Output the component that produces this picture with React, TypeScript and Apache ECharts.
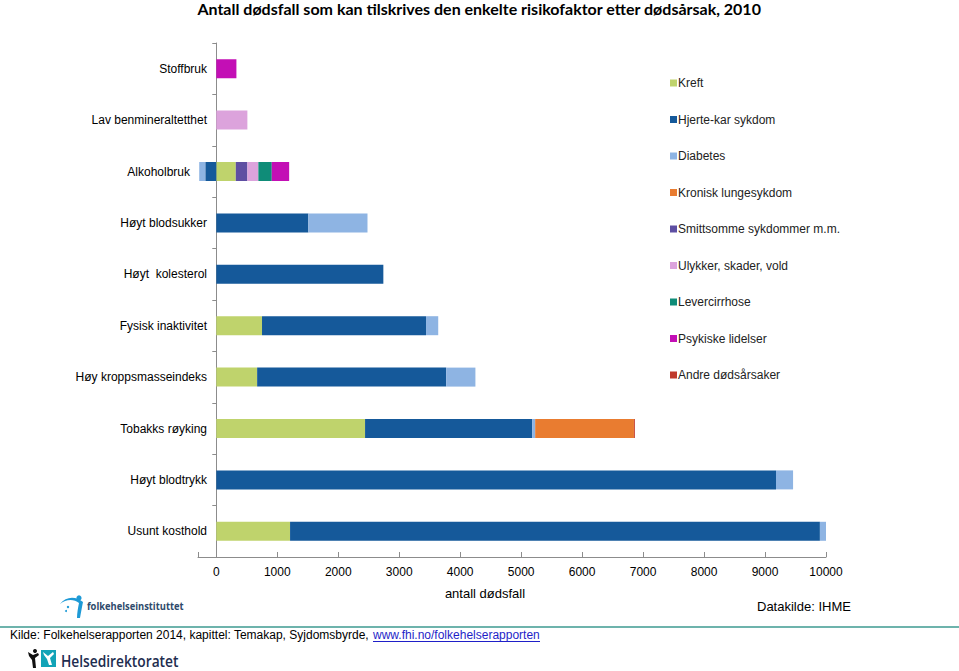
import React, { useEffect, useRef } from "react";
import * as echarts from "echarts";

const categories = [
  "Stoffbruk",
  "Lav benmineraltetthet",
  "Alkoholbruk",
  "Høyt blodsukker",
  "Høyt  kolesterol",
  "Fysisk inaktivitet",
  "Høy kroppsmasseindeks",
  "Tobakks røyking",
  "Høyt blodtrykk",
  "Usunt kosthold",
];

const seriesNames = [
  "Kreft",
  "Hjerte-kar sykdom",
  "Diabetes",
  "Kronisk lungesykdom",
  "Smittsomme sykdommer m.m.",
  "Ulykker, skader, vold",
  "Levercirrhose",
  "Psykiske lidelser",
  "Andre dødsårsaker",
];

const kreft = [null, null, 320, null, null, 750, 670, 2440, null, 1210];
const hjerteKar = [null, null, -180, 1510, 2740, 2690, 3100, 2740, 9180, 8690];
const diabetes = [null, null, -100, 970, null, 200, 480, 50, 280, 115];
const kroniskLunge = [null, null, null, null, null, null, null, 1620, null, null];
const smittsomme = [null, null, 190, null, null, null, null, null, null, null];
const ulykker = [null, 510, 180, null, null, null, null, null, null, null];
const levercirrhose = [null, null, 220, null, null, null, null, null, null, null];
const psykiske = [330, null, 285, null, null, null, null, null, null, null];
const andre = [null, null, null, null, null, null, null, 15, null, null];

const seriesValues = [kreft, hjerteKar, diabetes, kroniskLunge, smittsomme, ulykker, levercirrhose, psykiske, andre];

const colors = ["#BFD36C", "#15599A", "#8EB4E3", "#E97C30", "#5E4FA2", "#DCA3DC", "#0F8C78", "#C30FB5", "#C0392B"];

const xTicks = [-300, 0, 1000, 2000, 3000, 4000, 5000, 6000, 7000, 8000, 9000, 10000];
const xLabels = [0, 1000, 2000, 3000, 4000, 5000, 6000, 7000, 8000, 9000, 10000];

const swooshPath = "M0,8 C6,3 14,3 19,7 C18,12 17,17 17,22 L20,22 C21,16 22,11 23,6 C16,0 6,0 0,8 Z";
echarts.graphic.registerShape("fhiSwoosh", echarts.graphic.extendPath(swooshPath, {}));

export default function App() {
  const ref = useRef<HTMLDivElement>(null);
  useEffect(() => {
    if (!ref.current) return;
    const chart = echarts.init(ref.current, null, { renderer: "svg" });
    const font = "Liberation Sans, Arial, sans-serif";
    chart.setOption({
      animation: false,
      color: colors,
      textStyle: { fontFamily: font },
      grid: { left: 198, right: 133, top: 43, bottom: 114, containLabel: false },
      legend: {
        orient: "vertical",
        left: 665,
        top: 72,
        itemWidth: 7,
        itemHeight: 7,
        itemGap: 24.5,
        icon: "rect",
        data: seriesNames,
        textStyle: { fontSize: 12, color: "#222", fontFamily: font, padding: [0, 0, 0, -4] },
      },
      xAxis: {
        type: "value",
        min: -300,
        max: 10000,
        splitLine: { show: false },
        axisLine: { show: true, lineStyle: { color: "#8c8c8c" } },
        axisTick: { show: true, inside: true, length: 5, lineStyle: { color: "#8c8c8c" }, customValues: xTicks },
        axisLabel: {
          color: "#000",
          fontSize: 12,
          margin: 9,
          customValues: xLabels,
          formatter: (v: number) => String(v),
        },
      },
      yAxis: {
        type: "category",
        inverse: true,
        data: categories,
        axisLine: { show: true, onZero: true, lineStyle: { color: "#8c8c8c" } },
        axisTick: { show: true, length: 4, lineStyle: { color: "#8c8c8c" } },
        axisLabel: {
          color: "#000",
          fontSize: 12,
          margin: -9,
          formatter: (v: string) => (v === "Alkoholbruk" ? `{a|${v}}` : v),
          rich: { a: { color: "#000", fontSize: 12, fontFamily: font, padding: [0, 17, 0, 0] } },
        },
      },
      series: seriesNames.map((name, i) => ({
        name,
        type: "bar",
        stack: "total",
        barWidth: 19,
        data: seriesValues[i],
        itemStyle: { color: colors[i] },
      })),
      graphic: [
        {
          type: "text",
          left: "center",
          top: 0,
          style: {
            text: "Antall dødsfall som kan tilskrives den enkelte risikofaktor etter dødsårsak, 2010",
            font: "bold 16px Lato, sans-serif",
            fill: "#000",
          },
        },
        {
          type: "text",
          x: 485,
          y: 593,
          style: { text: "antall dødsfall", font: `13px ${font}`, fill: "#000", align: "center", verticalAlign: "middle" },
        },
        {
          type: "text",
          x: 757,
          y: 606,
          style: { text: "Datakilde: IHME", font: `13px ${font}`, fill: "#000", align: "left", verticalAlign: "middle" },
        },
        { type: "rect", shape: { x: 0, y: 626, width: 959, height: 2 }, style: { fill: "#6DB3AC" } },
        {
          type: "text",
          x: 10,
          y: 635,
          style: {
            text: "Kilde: Folkehelserapporten 2014, kapittel: Temakap, Syjdomsbyrde, ",
            font: `12px ${font}`,
            fill: "#000",
            verticalAlign: "middle",
          },
        },
        {
          type: "text",
          x: 373,
          y: 635,
          style: { text: "www.fhi.no/folkehelserapporten", font: `12px ${font}`, fill: "#1F1FC8", verticalAlign: "middle" },
        },
        { type: "line", shape: { x1: 373, y1: 641.5, x2: 540, y2: 641.5 }, style: { stroke: "#1F1FC8", lineWidth: 1 } },
        // FHI logo
        { type: "fhiSwoosh", x: 60, y: 596, scaleX: 1, scaleY: 1, style: { fill: "#1E9AD6" } },
        { type: "circle", shape: { cx: 79, cy: 598, r: 2.6 }, style: { fill: "#1E9AD6" } },
        { type: "circle", shape: { cx: 68, cy: 607, r: 1.2 }, style: { fill: "#1E9AD6" } },
        { type: "circle", shape: { cx: 66, cy: 611, r: 1 }, style: { fill: "#1E9AD6" } },
        {
          type: "text",
          x: 87,
          y: 606,
          scaleX: 0.85,
          style: { text: "folkehelseinstituttet", font: `bold 11px "Open Sans", sans-serif`, fill: "#2E4A6B", verticalAlign: "middle" },
        },
        // Helsedirektoratet logo
        { type: "circle", shape: { cx: 35, cy: 651, r: 2 }, style: { fill: "#111" } },
        { type: "polygon", shape: { points: [[28, 652], [33, 655], [38, 653], [39, 655], [35, 658], [36, 668], [33, 668], [32, 660], [29, 656]] }, style: { fill: "#111" } },
        { type: "rect", shape: { x: 41, y: 650, width: 15, height: 17 }, style: { fill: "#12A3B7" } },
        { type: "polygon", shape: { points: [[43, 652], [48, 656], [53, 652], [54, 654], [50, 658], [52, 665], [49, 665], [47, 659], [44, 655]] }, style: { fill: "#fff" } },
        {
          type: "text",
          x: 61,
          y: 660,
          scaleX: 0.81,
          style: { text: "Helsedirektoratet", font: `600 17px "Open Sans", sans-serif`, fill: "#1E2D4F", verticalAlign: "middle" },
        },
      ],
    });
    return () => chart.dispose();
  }, []);
  return (
    <div
      ref={ref}
      style={{ position: "absolute", left: 0, top: 0, width: 959, height: 671, background: "#fff" }}
    />
  );
}
